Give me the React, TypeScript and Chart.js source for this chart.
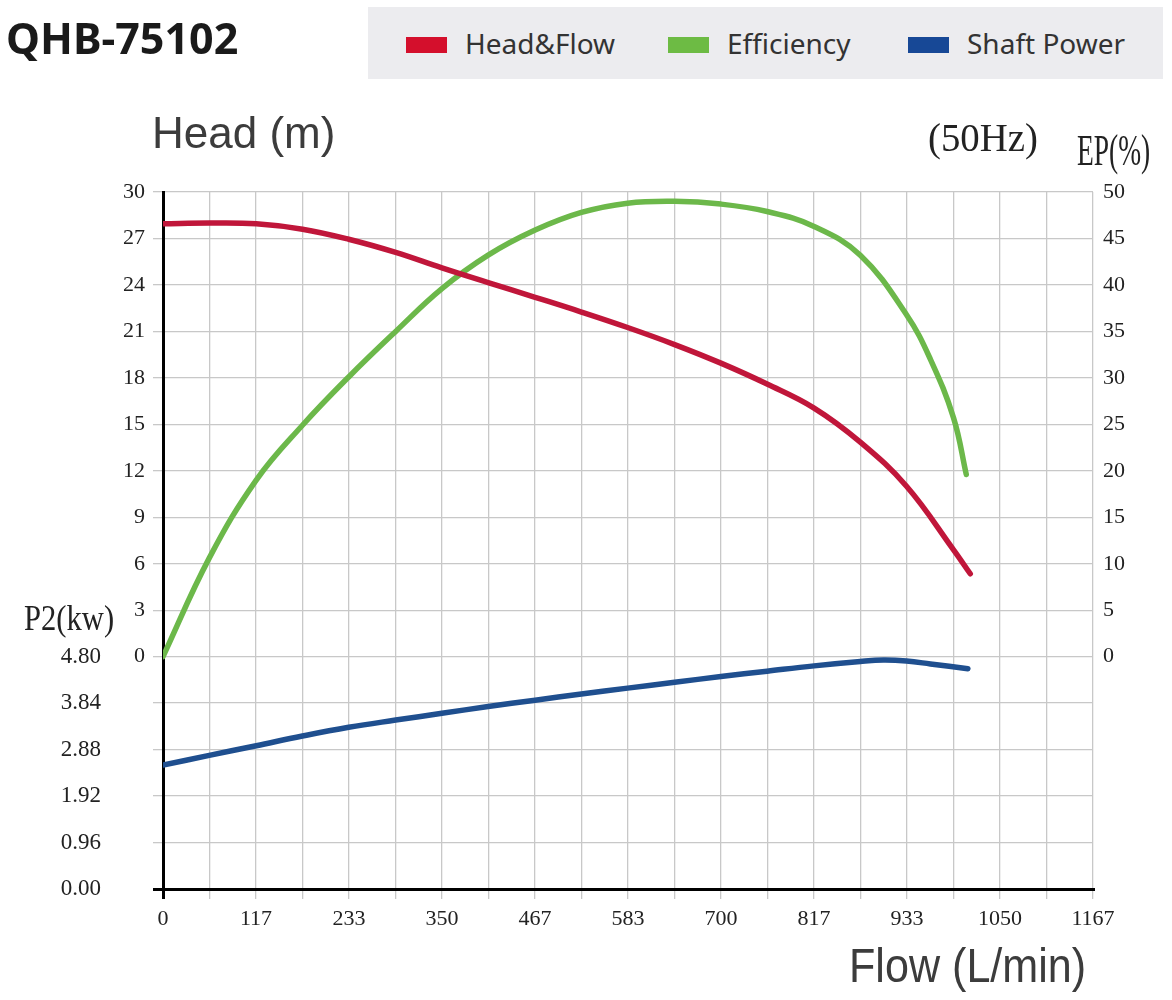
import React, { useEffect, useRef } from 'react';
import { Chart, registerables } from 'chart.js';

Chart.register(...registerables);

// ---- data ----
const X_LABELS = ['0', '117', '233', '350', '467', '583', '700', '817', '933', '1050', '1167'];
const P2_TICKS = [0, 0.96, 1.92, 2.88, 3.84, 4.8];

const FLOW_HEAD = [0, 58, 117, 175, 233, 292, 350, 408, 467, 525, 583, 642, 700, 758, 817, 875, 933, 992, 1013];
const HEAD = [27.95, 28.0, 27.95, 27.6, 26.95, 26.1, 25.1, 24.15, 23.2, 22.25, 21.25, 20.15, 18.95, 17.6, 16.05, 13.85, 11.0, 6.9, 5.35];

const FLOW_EFF = [0, 58, 117, 175, 233, 292, 350, 408, 467, 525, 583, 642, 700, 758, 817, 875, 933, 963, 992, 1008];
const EFF = [0, 10.6, 19.0, 24.9, 30.1, 35.0, 39.6, 43.2, 45.9, 47.8, 48.8, 49.0, 48.7, 47.9, 46.3, 43.2, 36.8, 32.0, 25.7, 19.6];

const FLOW_POWER = [0, 58, 117, 175, 233, 292, 350, 408, 467, 525, 583, 642, 700, 758, 817, 875, 904, 933, 963, 1010];
const POWER = [2.56, 2.76, 2.96, 3.16, 3.34, 3.49, 3.63, 3.77, 3.9, 4.03, 4.15, 4.27, 4.39, 4.5, 4.61, 4.7, 4.73, 4.71, 4.65, 4.55];

const RED = '#c0163a';
const GREEN = '#6cb84a';
const BLUE = '#1f4f8f';
const GRID = '#c8c8c8';

const txt = (s: React.CSSProperties): React.CSSProperties => ({
  position: 'absolute',
  margin: 0,
  lineHeight: 1,
  whiteSpace: 'nowrap',
  transformOrigin: 'left top',
  ...s,
});

export default function App() {
  const ref = useRef<HTMLCanvasElement>(null);

  useEffect(() => {
    const tickFont = { family: "'Liberation Serif', serif", size: 22 };
    const line = {
      borderWidth: 5.5,
      pointRadius: 0,
      tension: 0.4,
      borderCapStyle: 'round' as const,
      fill: false,
    };
    const chart = new Chart(ref.current as HTMLCanvasElement, {
      type: 'line',
      data: {
        datasets: [
          {
            label: 'Head&Flow',
            data: FLOW_HEAD.map((x, i) => ({ x, y: HEAD[i] })),
            yAxisID: 'yHead',
            borderColor: RED,
            ...line,
          },
          {
            label: 'Efficiency',
            data: FLOW_EFF.map((x, i) => ({ x, y: EFF[i] })),
            yAxisID: 'yEff',
            borderColor: GREEN,
            ...line,
          },
          {
            label: 'Shaft Power',
            data: FLOW_POWER.map((x, i) => ({ x, y: POWER[i] })),
            yAxisID: 'yPower',
            borderColor: BLUE,
            ...line,
          },
        ],
      },
      options: {
        responsive: false,
        animation: false,
        layout: { padding: { top: 192, left: 0, right: 0, bottom: 0 } },
        plugins: { legend: { display: false }, tooltip: { enabled: false } },
        scales: {
          x: {
            type: 'linear',
            min: 0,
            max: 1167,
            afterBuildTicks: (s: any) => {
              s.ticks = Array.from({ length: 21 }, (_, i) => ({ value: (i * 1167) / 20 }));
            },
            afterFit: (s: any) => {
              s.height = 111;
            },
            ticks: {
              autoSkip: false,
              maxRotation: 0,
              padding: 7,
              color: '#222',
              font: tickFont,
              callback: (_v: any, i: number) => (i % 2 === 0 ? X_LABELS[i / 2] : ''),
            },
            grid: {
              color: (c: any) => (c.index === 0 ? '#000' : GRID),
              lineWidth: (c: any) => (c.index === 0 ? 3 : 1.3),
              tickLength: 10,
            },
            border: { display: true, color: '#000', width: 3 },
          },
          yHead: {
            type: 'linear',
            position: 'left',
            weight: 0,
            min: -15,
            max: 30,
            afterFit: (s: any) => {
              s.width = 55;
            },
            ticks: {
              stepSize: 3,
              padding: 8,
              color: '#222',
              font: tickFont,
              callback: (v: any) => (v >= 0 ? String(v) : ''),
            },
            grid: {
              color: (c: any) => (c.tick && c.tick.value === -15 ? '#000' : GRID),
              lineWidth: (c: any) => (c.tick && c.tick.value === -15 ? 3 : 1.3),
              tickLength: 10,
            },
            border: { display: true, color: '#000', width: 3 },
          },
          yPower: {
            type: 'linear',
            position: 'left',
            weight: 1,
            min: 0,
            max: 14.4,
            afterBuildTicks: (s: any) => {
              s.ticks = P2_TICKS.map((v) => ({ value: v }));
            },
            afterFit: (s: any) => {
              s.width = 108;
            },
            ticks: {
              padding: 7,
              color: '#222',
              font: { family: "'Liberation Serif', serif", size: 23 },
              callback: (v: any) => Number(v).toFixed(2),
            },
            grid: { display: false, drawTicks: false },
            border: { display: false },
          },
          yEff: {
            type: 'linear',
            position: 'right',
            min: -25,
            max: 50,
            afterFit: (s: any) => {
              s.width = 79;
            },
            ticks: {
              stepSize: 5,
              padding: 10,
              color: '#222',
              font: tickFont,
              callback: (v: any) => (v >= 0 ? String(v) : ''),
            },
            grid: { display: false, drawTicks: false },
            border: { display: false },
          },
        },
      } as any,
    });
    return () => chart.destroy();
  }, []);

  const legendText: React.CSSProperties = {
    fontFamily: "'Noto Sans', sans-serif",
    fontSize: 28,
    color: '#333',
    top: 29,
  };

  return (
    <div
      style={{
        position: 'absolute',
        left: 0,
        top: 0,
        width: 1172,
        height: 1000,
        background: '#fff',
        overflow: 'hidden',
      }}
    >
      <canvas ref={ref} width={1172} height={1000} style={{ position: 'absolute', left: 0, top: 0 }} />

      <div style={txt({ left: 6, top: 16, fontFamily: "'Noto Sans', sans-serif", fontWeight: 700, fontSize: 43, color: '#1a1a1a' })}>
        QHB-75102
      </div>

      <div style={{ position: 'absolute', left: 368, top: 7, width: 795, height: 72, background: '#ececef' }} />
      <div style={{ position: 'absolute', left: 406, top: 37, width: 41, height: 16, background: '#d40f2c' }} />
      <div style={txt({ ...legendText, left: 465 })}>Head&amp;Flow</div>
      <div style={{ position: 'absolute', left: 668, top: 37, width: 41, height: 16, background: '#6dbb44' }} />
      <div style={txt({ ...legendText, left: 727 })}>Efficiency</div>
      <div style={{ position: 'absolute', left: 908, top: 37, width: 41, height: 16, background: '#174896' }} />
      <div style={txt({ ...legendText, left: 967 })}>Shaft Power</div>

      <div style={txt({ left: 152, top: 111, fontFamily: "'Liberation Sans', sans-serif", fontSize: 44, color: '#3c3c3c' })}>
        Head (m)
      </div>
      <div style={txt({ left: 928, top: 118, fontFamily: "'Liberation Serif', serif", fontSize: 40, color: '#222', transform: 'scaleX(0.97)' })}>
        (50Hz)
      </div>
      <div style={txt({ left: 1077, top: 128, fontFamily: "'Liberation Serif', serif", fontSize: 45, color: '#222', transform: 'scaleX(0.61)' })}>
        EP(%)
      </div>
      <div style={txt({ left: 24, top: 600, fontFamily: "'Liberation Serif', serif", fontSize: 36, color: '#222', transform: 'scaleX(0.85)' })}>
        P2(kw)
      </div>
      <div style={txt({ left: 849, top: 941, fontFamily: "'Liberation Sans', sans-serif", fontSize: 49, color: '#3c3c3c', transform: 'scaleX(0.88)' })}>
        Flow (L/min)
      </div>
    </div>
  );
}
